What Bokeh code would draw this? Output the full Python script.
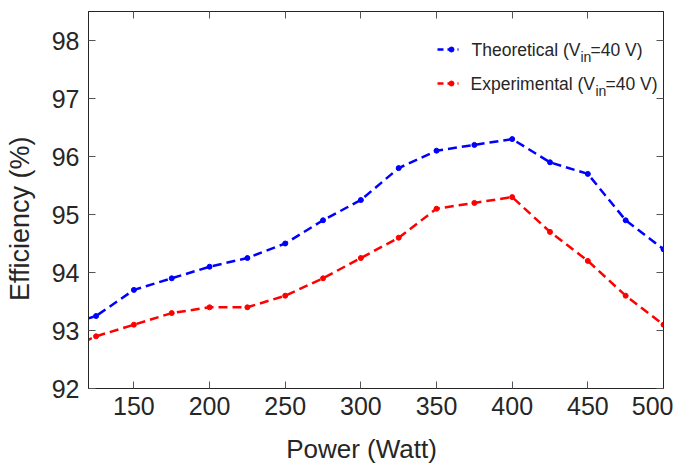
from bokeh.plotting import figure
from bokeh.models import Range1d, LinearAxis, FixedTicker, Label, ColumnDataSource
from bokeh.embed import file_html
from bokeh.resources import INLINE

# ---- data ----
power = [100, 125, 150, 175, 200, 225, 250, 275, 300, 325, 350, 375, 400, 425, 450, 475, 500]
theoretical = [93.05, 93.25, 93.7, 93.9, 94.1, 94.25, 94.5, 94.9, 95.25, 95.8, 96.1, 96.2, 96.3, 95.9, 95.7, 94.9, 94.4]
experimental = [92.6, 92.9, 93.1, 93.3, 93.4, 93.4, 93.6, 93.9, 94.25, 94.6, 95.1, 95.2, 95.3, 94.7, 94.2, 93.6, 93.1]
x_ticks = [150, 200, 250, 300, 350, 400, 450, 500]
y_ticks = [92, 93, 94, 95, 96, 97, 98]
series_names = ["Theoretical (V", "Experimental (V"]
sub_text = "in"
tail_text = "=40 V)"
x_label = "Power (Watt)"
y_label = "Efficiency (%)"

NB = "\u00a0"  # non-breaking spaces used only to nudge centred axis titles

# ---- layout ----
W, H = 673, 468
L, R, T, B = 88, 10, 11, 80
FW, FH = W - L - R, H - T - B
X0, X1 = 120, 500
Y0, Y1 = 92, 98.5

FONT = "Liberation Sans, Arial, sans-serif"
AXC = "#262626"
TXT = "#262626"

p = figure(width=W, height=H, output_backend="svg", toolbar_location=None,
           x_range=Range1d(X0, X1), y_range=Range1d(Y0, Y1),
           min_border_left=L, min_border_right=R, min_border_top=T, min_border_bottom=B,
           x_axis_type=None, y_axis_type=None)
p.grid.visible = False
p.outline_line_color = AXC
p.outline_line_width = 1
p.background_fill_color = "white"
p.border_fill_color = "white"


def style_axis(ax, ticks, show_labels):
    ax.major_tick_in = 7
    ax.major_tick_out = 0
    ax.minor_tick_line_color = None
    ax.major_tick_line_color = "#555555"
    ax.axis_line_color = AXC
    ax.major_label_text_font = FONT
    ax.major_label_text_color = TXT
    ax.major_label_text_font_size = "25px"
    ax.axis_label_text_font = FONT
    ax.axis_label_text_font_style = "normal"
    ax.axis_label_text_color = TXT
    if not show_labels:
        ax.major_label_overrides = {t: "" for t in ticks}
        ax.major_label_standoff = 0


xb = LinearAxis(ticker=FixedTicker(ticks=x_ticks))
style_axis(xb, x_ticks, True)
xb.major_label_standoff = 8
xb.axis_label = x_label + NB * 4
xb.axis_label_text_font_size = "26px"
xb.axis_label_standoff = 16
p.add_layout(xb, "below")

yl = LinearAxis(ticker=FixedTicker(ticks=y_ticks))
style_axis(yl, y_ticks, True)
yl.major_label_standoff = 9
yl.axis_label = y_label + NB * 5
yl.axis_label_text_font_size = "27px"
yl.axis_label_standoff = 14
p.add_layout(yl, "left")

xt = LinearAxis(ticker=FixedTicker(ticks=x_ticks))
style_axis(xt, x_ticks, False)
p.add_layout(xt, "above")

yr = LinearAxis(ticker=FixedTicker(ticks=y_ticks))
style_axis(yr, y_ticks, False)
p.add_layout(yr, "right")

# ---- series ----
colors = ["#0000FF", "#FF0000"]
src = ColumnDataSource(dict(x=power, t=theoretical, e=experimental))
for col, c in zip(["t", "e"], colors):
    p.line("x", col, source=src, line_color=c, line_width=2.5, line_dash="9 5")
    p.scatter("x", col, source=src, size=5, color=c, marker="circle")


# ---- legend (manual, to allow the subscript) ----
def dx(px):
    return X0 + (px - L) * (X1 - X0) / FW


def dy(py):
    return Y1 - (py - T) * (Y1 - Y0) / FH


rows = [(49, 471, 580, 590), (83, 470, 595, 605)]
for (py, tx, sx, ex), name, c in zip(rows, series_names, colors):
    p.line([dx(437), dx(458)], [dy(py), dy(py)], line_color=c, line_width=2.5, line_dash="6 4")
    p.scatter([dx(451)], [dy(py)], size=5, color=c)
    p.add_layout(Label(x=dx(tx), y=dy(py), text=name, text_baseline="middle",
                       text_font=FONT, text_font_size="17.5px", text_color=TXT))
    p.add_layout(Label(x=dx(sx), y=dy(py + 7), text=sub_text, text_baseline="middle",
                       text_font=FONT, text_font_size="14px", text_color=TXT))
    p.add_layout(Label(x=dx(ex), y=dy(py), text=tail_text, text_baseline="middle",
                       text_font=FONT, text_font_size="17.5px", text_color=TXT))

open("out.html", "w").write(file_html(p, INLINE))
